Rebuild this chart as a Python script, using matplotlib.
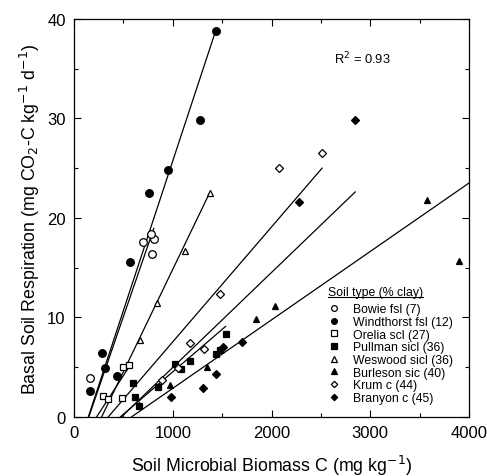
import numpy as np
import matplotlib
matplotlib.use("Agg")
import matplotlib.pyplot as plt
from matplotlib.ticker import MultipleLocator

plt.rcParams['font.family'] = ['Liberation Sans', 'DejaVu Sans']

# Soil types and their measured points (biomass C, respiration)
soils = ["Bowie fsl (7)", "Windthorst fsl (12)", "Orelia scl (27)", "Pullman sicl (36)",
         "Weswood sicl (36)", "Burleson sic (40)", "Krum c (44)", "Branyon c (45)"]

bowie_x = [162, 694, 808, 791, 775]
bowie_y = [3.9, 17.6, 17.9, 16.4, 18.4]

windthorst_x = [162, 279, 310, 431, 566, 761, 953, 1276, 1434]
windthorst_y = [2.6, 6.4, 4.9, 4.1, 15.6, 22.5, 24.8, 29.8, 38.8]

orelia_x = [296, 340, 481, 498, 556]
orelia_y = [2.1, 1.8, 1.9, 5.0, 5.2]

pullman_x = [599, 616, 657, 852, 1020, 1081, 1172, 1434, 1475, 1542]
pullman_y = [3.4, 2.0, 1.1, 3.0, 5.3, 4.8, 5.6, 6.3, 6.7, 8.3]

weswood_x = [667, 845, 1128, 1374]
weswood_y = [7.7, 11.4, 16.7, 22.5]

burleson_x = [660, 970, 1350, 1840, 2035, 3579, 3899]
burleson_y = [1.2, 3.2, 5.0, 9.8, 11.1, 21.8, 15.7]

krum_x = [886, 1054, 1172, 1313, 1475, 2077, 2510]
krum_y = [3.7, 4.9, 7.4, 6.8, 12.4, 25.0, 26.5]

branyon_x = [980, 1306, 1440, 1508, 1704, 2283, 2848]
branyon_y = [2.0, 2.9, 4.3, 7.0, 7.5, 21.6, 29.8]

# regression lines: slope, x-intercept, end of line
line_slope = [0.0288, 0.0301, 0.0153, 0.00854, 0.0206, 0.00688, 0.01155, 0.00955]
line_x0 = [150, 145, 229, 470, 280, 583, 347, 480]
line_end = [808, 1434, 576, 1535, 1374, 4000, 2512, 2848]

xs = [bowie_x, windthorst_x, orelia_x, pullman_x, weswood_x, burleson_x, krum_x, branyon_x]
ys = [bowie_y, windthorst_y, orelia_y, pullman_y, weswood_y, burleson_y, krum_y, branyon_y]

markers = ['o', 'o', 's', 's', '^', '^', 'D', 'D']
filled = [False, True, False, True, False, True, False, True]
msizes = [5.5, 5.5, 5, 5, 5, 5, 4.3, 4.3]

fig = plt.figure(figsize=(4.87, 4.77), dpi=100)
ax = fig.add_axes([0.152, 0.124, 0.811, 0.834])

# lines first
for m, x0, xe in zip(line_slope, line_x0, line_end):
    lx = np.array([x0, xe])
    ax.plot(lx, m * (lx - x0), color='black', lw=0.9, zorder=2)

handles = []
for name, x, y, mk, f, ms in zip(soils, xs, ys, markers, filled, msizes):
    h, = ax.plot(x, y, linestyle='none', marker=mk, ms=ms,
                 markerfacecolor='black' if f else 'white',
                 markeredgecolor='black', markeredgewidth=0.9,
                 label=name, zorder=3)
    handles.append(h)

ax.set_xlim(0, 4000)
ax.set_ylim(0, 40)
ax.xaxis.set_major_locator(MultipleLocator(1000))
ax.xaxis.set_minor_locator(MultipleLocator(500))
ax.yaxis.set_major_locator(MultipleLocator(10))
ax.yaxis.set_minor_locator(MultipleLocator(5))
ax.tick_params(which='both', direction='in', top=True, right=True, labelsize=12, pad=6)
ax.tick_params(which='major', length=5, width=0.8)
ax.tick_params(which='minor', length=3, width=0.8)
for s in ax.spines.values():
    s.set_linewidth(0.9)

ax.set_xlabel("Soil Microbial Biomass C (mg kg$^{-1}$)", fontsize=12.8, labelpad=9)
ax.set_ylabel("Basal Soil Respiration (mg CO$_2$-C kg$^{-1}$ d$^{-1}$)", fontsize=12.8, labelpad=4)

ax.text(0.731, 0.902, "R$^2$ = 0.93", transform=ax.transAxes, fontsize=9.3,
        ha='center', va='center')

leg = ax.legend(handles=handles, loc='upper left', bbox_to_anchor=(0.644, 0.286),
                frameon=False, fontsize=8.8, handletextpad=1.0, labelspacing=0.06,
                borderpad=0, borderaxespad=0, handlelength=1.0, markerscale=0.75)

# legend title with underline
title = ax.text(0.643, 0.314, "Soil type (% clay)", transform=ax.transAxes,
                fontsize=8.8, ha='left', va='center')
fig.canvas.draw()
tb = title.get_window_extent()
inv = ax.transAxes.inverted()
(x0u, y0u), (x1u, y1u) = inv.transform([[tb.x0, tb.y0], [tb.x1, tb.y0]])
ax.plot([x0u, x1u], [y0u + 0.002, y1u + 0.002], transform=ax.transAxes,
        color='black', lw=0.8, clip_on=False)

fig.savefig("out.png", dpi=100)
